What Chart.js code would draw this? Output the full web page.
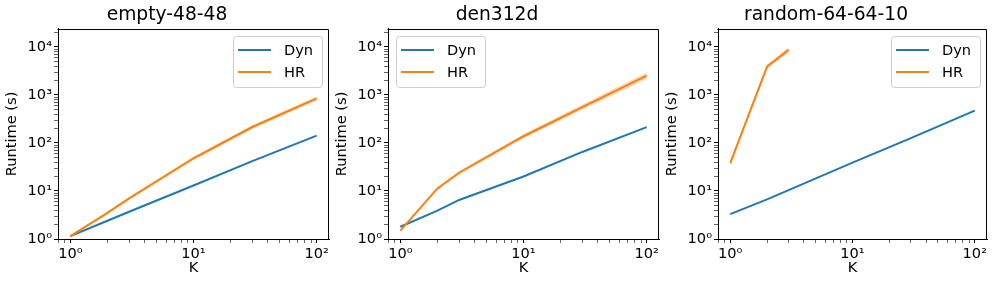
<!DOCTYPE html>
<html lang="en">
<head>
    <meta charset="UTF-8">
    <title>Runtime vs K</title>
    <style>
        body {
            margin: 0;
            background: white;
            width: 997px;
            height: 285px;
            position: relative;
            overflow: hidden;
        }
        canvas {
            position: absolute;
            top: 0;
        }
    </style>
</head>
<body>
    <canvas id="c0" width="330" height="285" style="left:5px"></canvas>
    <canvas id="c1" width="330" height="285" style="left:335px"></canvas>
    <canvas id="c2" width="332" height="285" style="left:665px"></canvas>

    <script src="https://cdn.jsdelivr.net/npm/chart.js"></script>
    <script>
        // data
        const K = [1, 2, 3, 10, 30, 100];
        const titles = ['empty-48-48', 'den312d', 'random-64-64-10'];

        const emptyDyn = [1.15, 2.4, 3.7, 13, 42, 142];
        const emptyHR = [1.15, 3.5, 7.0, 48, 215, 850];
        const emptyHRLow = [1.12, 3.3, 6.6, 44, 195, 770];
        const emptyHRHigh = [1.18, 3.7, 7.4, 52, 235, 930];

        const denDyn = [1.8, 3.9, 6.5, 20, 65, 214];
        const denHR = [1.5, 11.3, 24, 138, 556, 2520];
        const denHRLow = [1.45, 10.5, 22, 125, 490, 2150];
        const denHRHigh = [1.55, 12, 26, 152, 630, 2950];

        const randomHRK = [1, 2, 3];
        const randomDyn = [3.3, 6.7, 10.4, 39, 126, 470];
        const randomHR = [38, 3900, 8700];
        const randomHRLow = [34, 3500, 7600];
        const randomHRHigh = [42, 4300, 9900];

        const yTickLabels = ['10⁰', '10¹', '10²', '10³', '10⁴'];
        const xTickLabels = ['10⁰', '10¹', '10²'];

        const BLUE = '#1f77b4';
        const ORANGE = '#ff7f0e';
        const FONT = 'DejaVu Sans';

        Chart.defaults.font.family = FONT;
        Chart.defaults.color = '#000';

        function pts(xs, ys) {
            return xs.map((x, i) => ({ x: x, y: ys[i] }));
        }

        function isDecade(v) {
            const l = Math.log10(v);
            return Math.abs(l - Math.round(l)) < 1e-9;
        }

        function logTicks(min, max) {
            const out = [];
            for (let e = -1; e <= 5; e++) {
                for (let m = 1; m <= 9; m++) {
                    const v = m * Math.pow(10, e);
                    if (v >= min * 0.9999 && v <= max * 1.0001) out.push({ value: v });
                }
            }
            return out;
        }

        // top and right spines
        const framePlugin = {
            id: 'frame',
            afterDraw(chart) {
                const a = chart.chartArea;
                const ctx = chart.ctx;
                ctx.save();
                ctx.strokeStyle = '#000';
                ctx.lineWidth = 1;
                ctx.beginPath();
                ctx.moveTo(Math.round(a.left) - 0.5, Math.round(a.top) + 0.5);
                ctx.lineTo(Math.round(a.right) - 0.5, Math.round(a.top) + 0.5);
                ctx.lineTo(Math.round(a.right) - 0.5, Math.round(a.bottom));
                ctx.stroke();
                ctx.restore();
            }
        };

        // matplotlib-like legend inside the axes
        const boxLegend = {
            id: 'boxLegend',
            afterDraw(chart, args, opts) {
                const a = chart.chartArea;
                const ctx = chart.ctx;
                const w = 89, h = 51;
                const bx = opts.side === 'left' ? a.left + 8 : a.right - 7 - w;
                const by = a.top + 7;
                ctx.save();
                ctx.fillStyle = 'rgba(255,255,255,0.8)';
                ctx.strokeStyle = '#cccccc';
                ctx.lineWidth = 1;
                ctx.beginPath();
                ctx.roundRect(bx + 0.5, by + 0.5, w, h, 3);
                ctx.fill();
                ctx.stroke();
                const items = chart.data.datasets.filter(d => d.inLegend)
                    .sort((p, q) => p.legendIndex - q.legendIndex);
                items.forEach((d, i) => {
                    const y = by + 14 + i * 22;
                    ctx.strokeStyle = d.borderColor;
                    ctx.lineWidth = 2;
                    ctx.beginPath();
                    ctx.moveTo(bx + 5, y);
                    ctx.lineTo(bx + 38, y);
                    ctx.stroke();
                    ctx.fillStyle = '#000';
                    ctx.font = '14.6px "' + FONT + '"';
                    ctx.textBaseline = 'middle';
                    ctx.fillText(d.label, bx + 51, y + 1);
                });
                ctx.restore();
            }
        };

        function makeChart(id, title, dyn, hrK, hr, hrLow, hrHigh, legendSide) {
            const ctx = document.getElementById(id).getContext('2d');
            return new Chart(ctx, {
                type: 'line',
                data: {
                    datasets: [
                        { label: 'HR', data: pts(hrK, hr), borderColor: ORANGE, borderWidth: 2,
                          pointRadius: 0, fill: false, order: 0, inLegend: true, legendIndex: 1 },
                        { label: 'Dyn', data: pts(K, dyn), borderColor: BLUE, borderWidth: 2,
                          pointRadius: 0, fill: false, order: 1, inLegend: true, legendIndex: 0 },
                        { label: 'HR high', data: pts(hrK, hrHigh), borderWidth: 0, pointRadius: 0,
                          backgroundColor: 'rgba(255,127,14,0.3)', fill: '+1', order: 2 },
                        { label: 'HR low', data: pts(hrK, hrLow), borderWidth: 0, pointRadius: 0,
                          fill: false, order: 3 }
                    ]
                },
                options: {
                    responsive: false,
                    animation: false,
                    layout: { padding: { left: 0, right: id === 'c2' ? 10 : 6, top: 0, bottom: 0 } },
                    plugins: {
                        legend: { display: false },
                        tooltip: { enabled: false },
                        title: {
                            display: true,
                            text: title,
                            font: { size: 18.7, weight: 'normal', lineHeight: 1.2 },
                            padding: { top: 3.5, bottom: 3 }
                        },
                        boxLegend: { side: legendSide }
                    },
                    scales: {
                        x: {
                            type: 'logarithmic',
                            min: 0.794,
                            max: 125.9,
                            afterBuildTicks: s => { s.ticks = logTicks(0.794, 125.9); },
                            afterFit: s => { s.height = 46; },
                            ticks: {
                                autoSkip: false,
                                maxRotation: 0,
                                padding: 2,
                                font: { size: 14.6 },
                                callback: v => isDecade(v) ? xTickLabels[Math.round(Math.log10(v))] : ''
                            },
                            grid: {
                                drawOnChartArea: false,
                                tickLength: 4,
                                tickColor: '#000',
                                tickWidth: c => (c.tick && isDecade(c.tick.value)) ? 1 : 0.6
                            },
                            border: { color: '#000', width: 1 },
                            title: {
                                display: true,
                                text: 'K',
                                font: { size: 14.6 },
                                padding: { top: 0, bottom: 8 }
                            }
                        },
                        y: {
                            type: 'logarithmic',
                            min: 1,
                            max: 23700,
                            afterBuildTicks: s => { s.ticks = logTicks(1, 23700); },
                            afterFit: s => { s.width = 53; },
                            ticks: {
                                autoSkip: false,
                                padding: 2,
                                font: { size: 14.6 },
                                callback: v => isDecade(v) ? yTickLabels[Math.round(Math.log10(v))] : ''
                            },
                            grid: {
                                drawOnChartArea: false,
                                tickLength: 4,
                                tickColor: '#000',
                                tickWidth: c => (c.tick && isDecade(c.tick.value)) ? 1 : 0.6
                            },
                            border: { color: '#000', width: 1 },
                            title: {
                                display: true,
                                text: 'Runtime (s)',
                                font: { size: 14.6, lineHeight: 1 },
                                padding: { top: 0, bottom: 0 }
                            }
                        }
                    }
                },
                plugins: [framePlugin, boxLegend]
            });
        }

        makeChart('c0', titles[0], emptyDyn, K, emptyHR, emptyHRLow, emptyHRHigh, 'right');
        makeChart('c1', titles[1], denDyn, K, denHR, denHRLow, denHRHigh, 'left');
        makeChart('c2', titles[2], randomDyn, randomHRK, randomHR, randomHRLow, randomHRHigh, 'right');
    </script>
</body>
</html>
